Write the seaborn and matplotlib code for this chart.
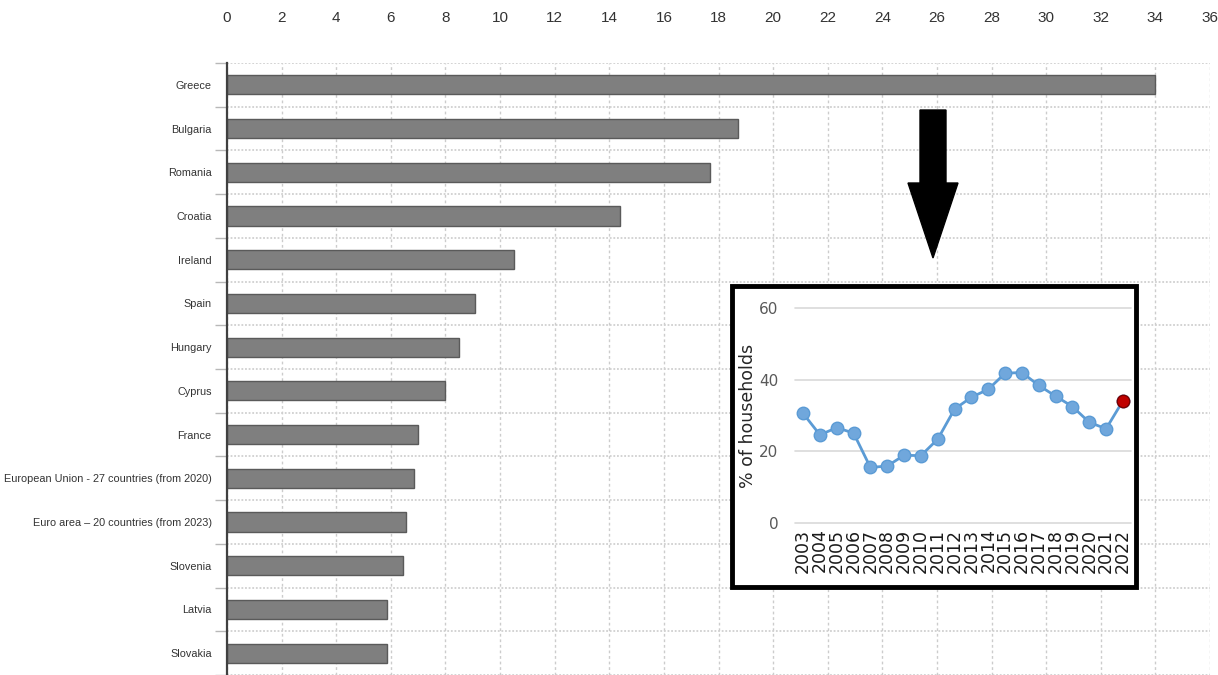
import matplotlib
matplotlib.use("Agg")
import matplotlib.pyplot as plt
import matplotlib.patches as mpatches
import matplotlib.transforms as mtransforms
from matplotlib.ticker import FixedLocator
import seaborn as sns
import pandas as pd

# Share of households in arrears (latest year), by country
countries = [
    "Greece", "Bulgaria", "Romania", "Croatia", "Ireland", "Spain", "Hungary",
    "Cyprus", "France", "European Union - 27 countries (from 2020)",
    "Euro area \u2013 20 countries (from 2023)", "Slovenia", "Latvia", "Slovakia",
]
arrears_pct = [34.0, 18.7, 17.7, 14.4, 10.5, 9.1, 8.5, 8.0, 7.0, 6.85, 6.55, 6.45, 5.85, 5.85]
x_ticks = list(range(0, 37, 2))

# Greece over time
years = list(range(2003, 2023))
greece_pct = [30.6, 24.6, 26.6, 25.1, 15.5, 15.9, 18.9, 18.8, 23.4, 31.8,
              35.1, 37.3, 41.8, 42.0, 38.4, 35.4, 32.5, 28.1, 26.3, 34.1]
inset_yticks = [0, 20, 40, 60]

W, H = 1218, 675
sns.set_theme(style="white")
plt.rcParams["font.family"] = ["Liberation Sans", "DejaVu Sans"]

fig = plt.figure(figsize=(W / 100, H / 100), dpi=100)
fig.patch.set_facecolor("white")


def px_box(left, top, right, bottom):
    return [left / W, 1 - bottom / H, (right - left) / W, (bottom - top) / H]


# ---- main horizontal bar chart ----
ax = fig.add_axes(px_box(227, 63, 1210, 675))
df = pd.DataFrame({"country": countries, "pct": arrears_pct})
sns.barplot(data=df, x="pct", y="country", orient="h", color="#7f7f7f",
            saturation=1, edgecolor="#5a5a5a", linewidth=1.0, width=0.44, ax=ax)
ax.set_xlim(0, 36)
ax.set_ylim(len(countries) - 0.5, -0.5)
ax.xaxis.tick_top()
ax.xaxis.set_major_locator(FixedLocator(x_ticks))
ax.set_xticklabels([str(t) for t in x_ticks])
ax.tick_params(axis="x", length=0, pad=27, labelsize=11, colors="#333333")
ax.tick_params(axis="y", which="major", length=0, pad=11, labelsize=7.8, colors="#333333")
ax.yaxis.set_minor_locator(FixedLocator([i - 0.5 for i in range(len(countries) + 1)]))
ax.tick_params(axis="y", which="minor", left=True, length=9, width=1, color="#b8b8b8")
ax.set_xlabel("")
ax.set_ylabel("")
ax.grid(axis="x", which="major", color="#cccccc", linestyle=(0, (2, 2)), linewidth=1)
ax.grid(axis="y", which="minor", color="#d0d0d0", linestyle=(0, (1, 1)), linewidth=1.3)
ax.grid(axis="y", which="major", visible=False)
ax.set_axisbelow(True)
for side in ["top", "right", "bottom"]:
    ax.spines[side].set_visible(False)
ax.spines["left"].set_color("#404040")
ax.spines["left"].set_linewidth(1.6)

# pixel coordinates (origin top-left) for decorations
px = mtransforms.Affine2D().scale(1 / W, -1 / H).translate(0, 1) + fig.transFigure

# ---- arrow pointing to inset ----
arrow = mpatches.Polygon(
    [(920, 110), (946, 110), (946, 183), (958, 183), (933, 258),
     (908, 183), (920, 183)],
    closed=True, facecolor="black", edgecolor="black", transform=px, zorder=5)
fig.patches.append(arrow)

# ---- inset frame ----
frame = mpatches.Rectangle((732, 587), 1136 - 732, 286 - 587, transform=px,
                           facecolor="white", edgecolor="black",
                           linewidth=3.5, zorder=5)
fig.patches.append(frame)

# ---- inset line chart ----
ax2 = fig.add_axes(px_box(795, 308, 1131, 523))
ax2.set_zorder(6)
ax2.patch.set_alpha(0)
sns.lineplot(x=years, y=greece_pct, ax=ax2, color="#5b9bd5", linewidth=2,
             marker="o", markersize=9, markerfacecolor="#70a7dc",
             markeredgecolor="#5b9bd5", markeredgewidth=1)
ax2.plot(years[-1:], greece_pct[-1:], "o", markersize=9,
         markerfacecolor="#c00000", markeredgecolor="#7a0000", zorder=4)
ax2.set_xlim(years[0] - 0.48, years[-1] + 0.48)
ax2.set_ylim(0, 60)
ax2.set_xticks(years)
ax2.set_xticklabels([str(y) for y in years], rotation=90, family=["DejaVu Sans"],
                    fontsize=12.5, color="#1a1a1a")
ax2.set_yticks(inset_yticks)
ax2.set_yticklabels([str(t) for t in inset_yticks], family=["DejaVu Sans"],
                    fontsize=11, color="#595959")
ax2.tick_params(axis="x", length=0, pad=4)
ax2.tick_params(axis="y", length=0, pad=12)
ax2.grid(axis="y", color="#d9d9d9", linewidth=1.2)
ax2.grid(axis="x", visible=False)
for side in ax2.spines:
    ax2.spines[side].set_visible(False)
ax2.set_ylabel("% of households", family=["DejaVu Sans"], fontsize=12.5,
               color="#262626", labelpad=1.5)
for line in ax2.get_ygridlines():
    line.set_clip_on(False)

fig.savefig("out.png", dpi=100, facecolor="white")
